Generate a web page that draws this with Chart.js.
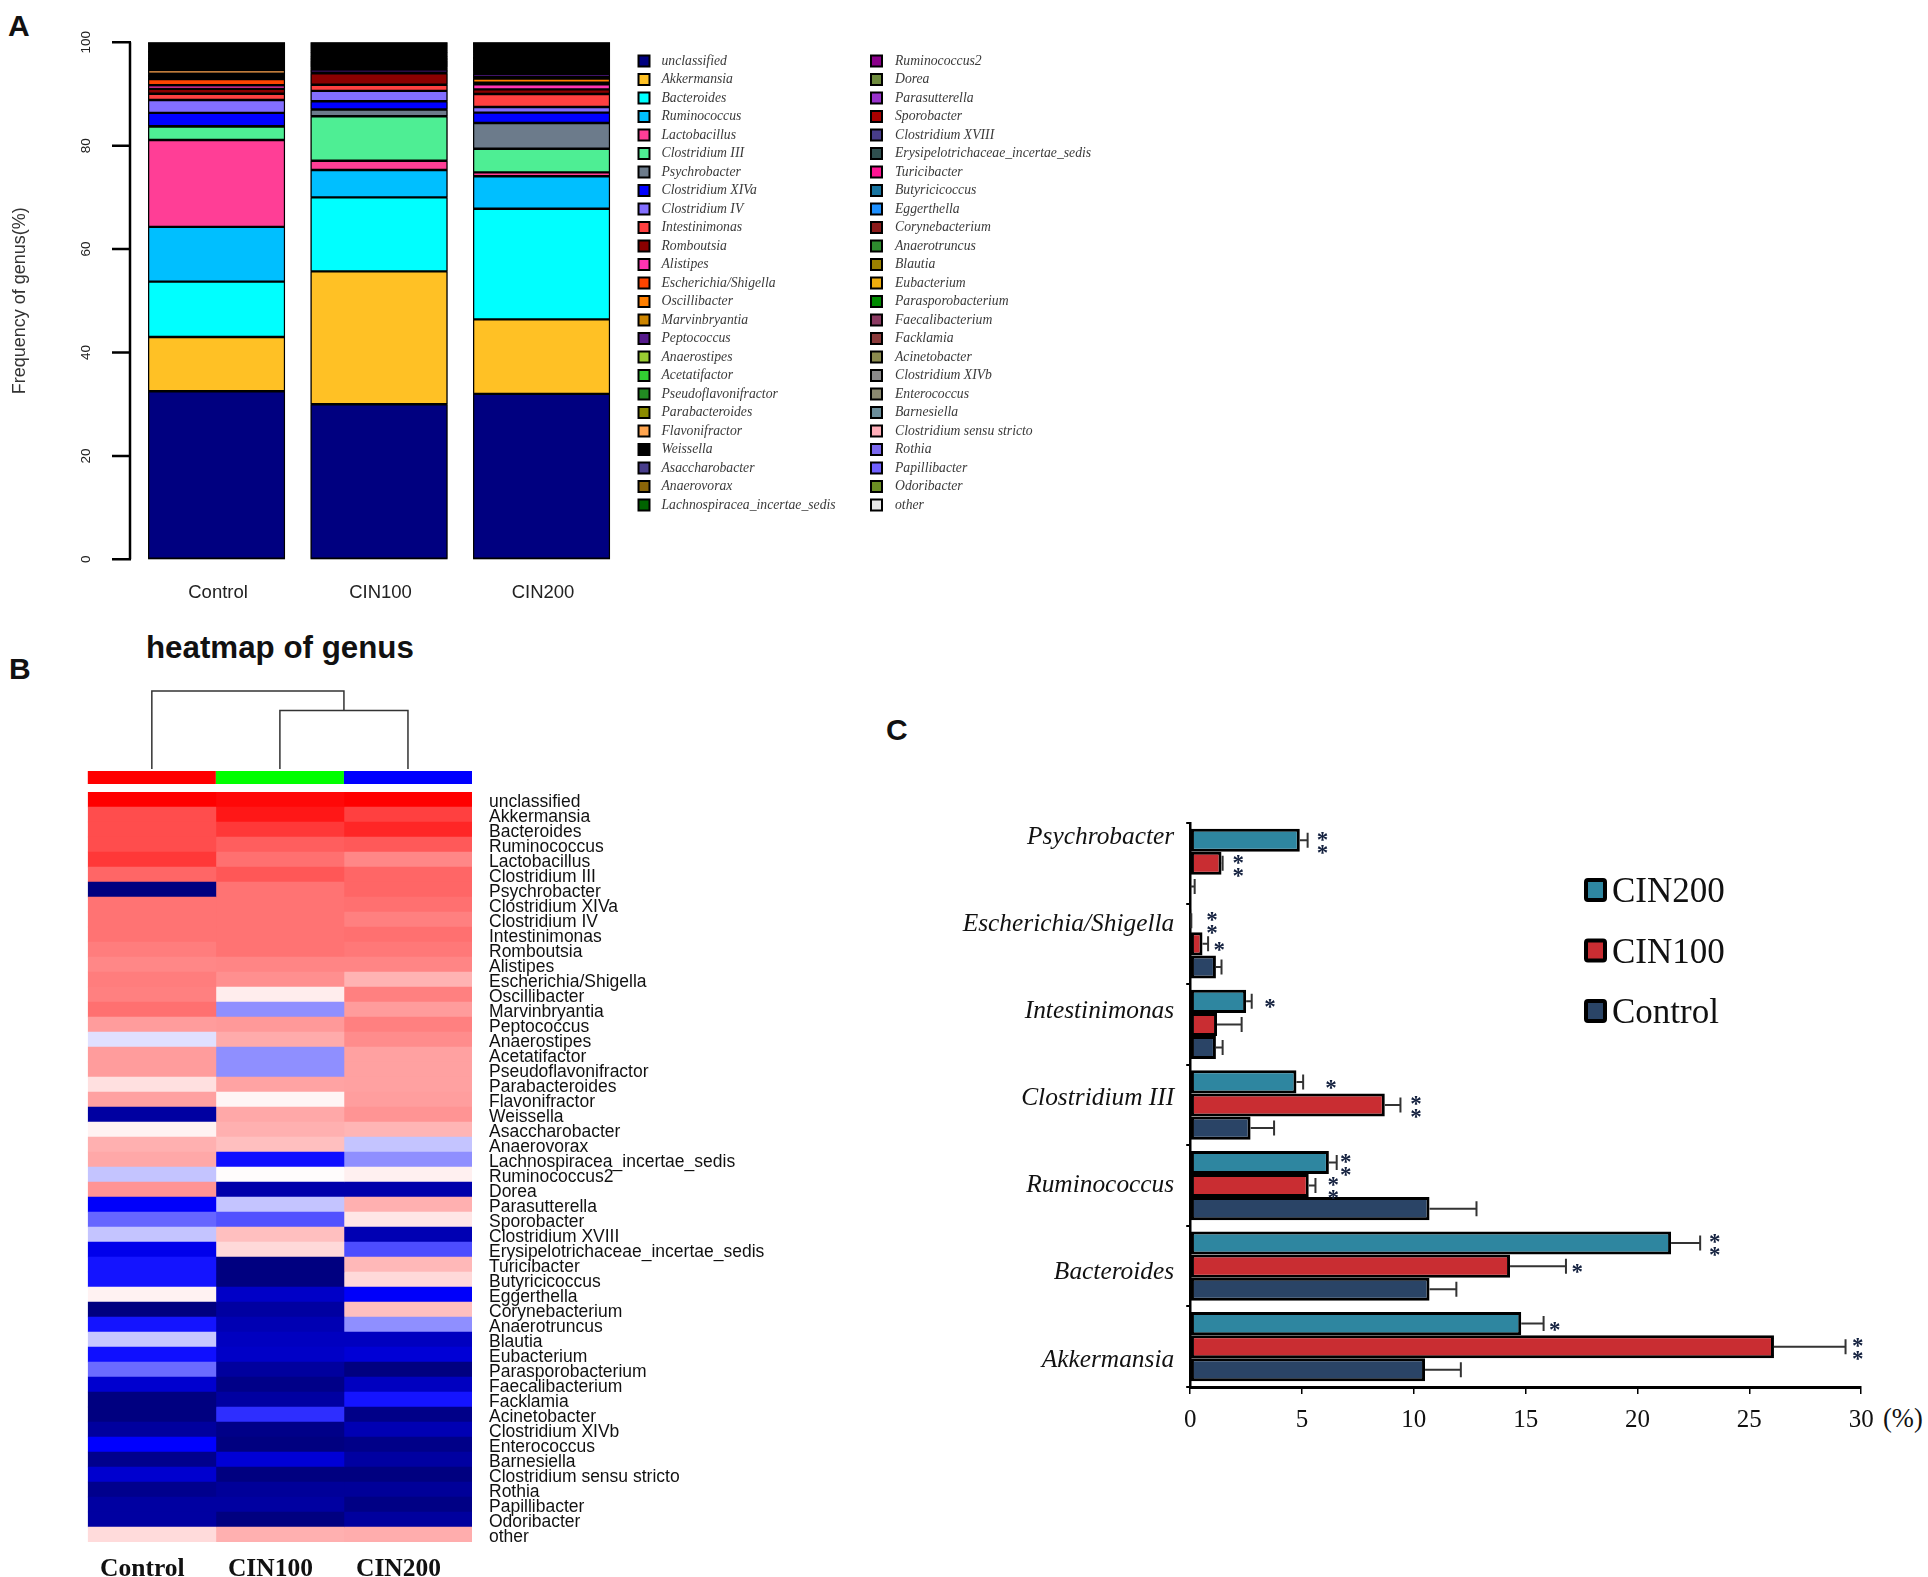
<!DOCTYPE html>
<html>
<head>
<meta charset="utf-8">
<title>genus charts</title>
<script src="https://cdn.jsdelivr.net/npm/chart.js@4"></script>
<style>
  html, body { margin: 0; padding: 0; background: #fff; }
  body { position: relative; width: 1928px; height: 1577px; overflow: hidden; }
  canvas { position: absolute; }
  .tag { position: absolute; font: bold 30px/30px "Liberation Sans"; color: #111; }
</style>
</head>
<body>
<div class="tag" style="left:8px;top:11px">A</div>
<div class="tag" style="left:9px;top:654px">B</div>
<div class="tag" style="left:886px;top:715px">C</div>
<div class="tag" style="left:146px;top:632px;font-size:31.3px;line-height:31px">heatmap of genus</div>
<div class="tag" style="left:1883px;top:1405px;font:26.5px/26.5px 'Liberation Serif'">(%)</div>
<canvas id="stack" width="1100" height="620" style="left:0;top:0"></canvas>
<canvas id="heat" width="880" height="957" style="left:0;top:620px"></canvas>
<canvas id="bars" width="1048" height="760" style="left:880px;top:700px"></canvas>
<script>
const samples = ["Control", "CIN100", "CIN200"];
const genera = ["unclassified", "Akkermansia", "Bacteroides", "Ruminococcus", "Lactobacillus", "Clostridium III", "Psychrobacter", "Clostridium XIVa", "Clostridium IV", "Intestinimonas", "Romboutsia", "Alistipes", "Escherichia/Shigella", "Oscillibacter", "Marvinbryantia", "Peptococcus", "Anaerostipes", "Acetatifactor", "Pseudoflavonifractor", "Parabacteroides", "Flavonifractor", "Weissella", "Asaccharobacter", "Anaerovorax", "Lachnospiracea_incertae_sedis", "Ruminococcus2", "Dorea", "Parasutterella", "Sporobacter", "Clostridium XVIII", "Erysipelotrichaceae_incertae_sedis", "Turicibacter", "Butyricicoccus", "Eggerthella", "Corynebacterium", "Anaerotruncus", "Blautia", "Eubacterium", "Parasporobacterium", "Faecalibacterium", "Facklamia", "Acinetobacter", "Clostridium XIVb", "Enterococcus", "Barnesiella", "Clostridium sensu stricto", "Rothia", "Papillibacter", "Odoribacter", "other"];
const generaColors = ["#000080", "#FFC125", "#00FFFF", "#00BFFF", "#FF3E96", "#4EEE94", "#6C7B8B", "#0000FF", "#836FFF", "#FF4040", "#8B0000", "#FF34B3", "#FF4500", "#FF7F00", "#CD8500", "#551A8B", "#9ACD32", "#32CD32", "#228B22", "#8B8B00", "#FFA54F", "#000000", "#483D8B", "#8B6508", "#006400", "#8B008B", "#6E8B3D", "#9932CC", "#AA0000", "#483D8B", "#2F4F4F", "#FF1493", "#1874A0", "#1E90FF", "#8B1A1A", "#2E8B2E", "#9C8200", "#EEAD0E", "#008B00", "#8B3A62", "#8B3A3A", "#8B8B4E", "#8B8989", "#8B8970", "#6C8E9B", "#FFAEB9", "#7B68EE", "#7060FF", "#6B8E23", "#E8E8E8"];

// frequency of genus (%), same order as genera
const freqControl = [32.5, 10.5, 10.7, 10.6, 16.8, 2.6, 0.05, 2.6, 2.5, 1.2, 0.95, 0.7, 1.2, 0.35, 0.25, 0.25, 0.02, 0.08, 0.05, 0.05, 0.7, 1.8, 0.25, 0.3, 0.3, 0.1, 0.3, 0.03, 0.06, 0.08, 0.03, 0.1, 0.1, 0.25, 0.02, 0.05, 0.2, 0.1, 0.05, 0.1, 0.02, 0.02, 0.1, 0.1, 0.1, 0.15, 0.1, 0.1, 0.1, 0.35];
const freqCIN100 = [30, 25.7, 14.3, 5.3, 1.8, 8.6, 1.3, 1.6, 2.0, 1.2, 2.2, 0.05, 0.02, 0.03, 0.03, 0.6, 0.1, 0.15, 0.05, 0.05, 0.05, 1.4, 0.25, 0.3, 0.25, 0.1, 0.05, 0.1, 0.06, 0.1, 0.03, 0.05, 0.1, 0.25, 0.02, 0.05, 0.2, 0.1, 0.05, 0.1, 0.02, 0.1, 0.1, 0.1, 0.1, 0.15, 0.15, 0.15, 0.15, 0.3];
const freqCIN200 = [32, 14.4, 21.4, 6.3, 0.75, 4.55, 5.0, 2.0, 1.1, 2.5, 0.9, 1.0, 0.3, 0.8, 0.3, 0.6, 0.05, 0.1, 0.1, 0.1, 0.1, 2.0, 0.3, 0.3, 0.2, 0.1, 0.05, 0.1, 0.1, 0.2, 0.03, 0.1, 0.05, 0.1, 0.15, 0.05, 0.15, 0.15, 0.05, 0.1, 0.05, 0.1, 0.1, 0.15, 0.15, 0.15, 0.15, 0.2, 0.2, 0.12];

// heatmap scale: -1 navy, -0.5 blue, 0 white, 1 red
const heatControl = [1, 0.7, 0.7, 0.7, 0.78, 0.6, -1, 0.55, 0.55, 0.55, 0.51, 0.47, 0.51, 0.5, 0.56, 0.39, -0.06, 0.39, 0.39, 0.12, 0.37, -0.87, 0.05, 0.31, 0.34, -0.115, 0.42, -0.52, -0.3, -0.115, -0.58, -0.46, -0.46, 0.05, -1, -0.46, -0.11, -0.47, -0.29, -0.69, -1, -1, -0.88, -0.5, -0.95, -0.69, -0.95, -0.87, -0.87, 0.14];
const heatCIN100 = [0.97, 0.91, 0.78, 0.63, 0.56, 0.66, 0.55, 0.55, 0.55, 0.55, 0.55, 0.48, 0.44, 0.07, -0.22, 0.4, 0.33, -0.22, -0.22, 0.36, 0.04, 0.34, 0.31, 0.25, -0.47, 0.01, -0.83, -0.115, -0.34, 0.25, 0.15, -1, -1, -0.72, -0.87, -0.8, -0.75, -0.72, -0.88, -0.97, -0.87, -0.41, -0.97, -1, -0.66, -1, -0.9, -0.87, -1, 0.31];
const heatCIN200 = [1, 0.75, 0.85, 0.65, 0.47, 0.6, 0.6, 0.56, 0.5, 0.56, 0.53, 0.48, 0.3, 0.5, 0.39, 0.5, 0.45, 0.37, 0.37, 0.37, 0.38, 0.42, 0.29, -0.115, -0.22, 0.06, -0.83, 0.31, 0.1, -0.8, -0.35, 0.28, 0.15, -0.52, 0.25, -0.22, -0.75, -0.66, -1, -0.75, -0.46, -0.97, -0.8, -0.97, -0.87, -1, -0.9, -0.98, -0.88, 0.32];
const sampleBar = ["#FF0000", "#00FF00", "#0000FF"];

// panel C, top to bottom
const barGenera = ["Psychrobacter", "Escherichia/Shigella", "Intestinimonas", "Clostridium III", "Ruminococcus", "Bacteroides", "Akkermansia"];
const barCIN200 = [4.9, 0.05, 2.5, 4.75, 6.2, 21.5, 14.8];
const barCIN100 = [1.4, 0.55, 1.2, 8.7, 5.3, 14.3, 26.1];
const barControl = [0.02, 1.15, 1.15, 2.7, 10.7, 10.7, 10.5];
const errCIN200 = [5.25, 0.05, 2.75, 5.05, 6.55, 22.8, 15.8];
const errCIN100 = [1.45, 0.8, 2.3, 9.4, 5.6, 16.8, 29.3];
const errControl = [0.2, 1.4, 1.45, 3.75, 12.8, 11.9, 12.1];
const starsCIN200 = [2, 2, 1, 1, 2, 2, 1];
const starsCIN100 = [2, 1, 0, 2, 2, 1, 2];
const starAtCIN200 = [5.92, 0.97, 3.57, 6.3, 6.96, 23.45, 16.3];
const starAtCIN100 = [2.15, 1.3, 0, 10.1, 6.4, 17.3, 29.85];

Chart.defaults.animation = false;
Chart.defaults.responsive = false;
Chart.defaults.devicePixelRatio = 1;
Chart.defaults.layout.autoPadding = false;
Chart.defaults.plugins.legend.display = false;
Chart.defaults.plugins.tooltip.enabled = false;

function heatColor(v) {
  if (v >= 0) { const g = Math.round(255 * (1 - v)); return `rgb(255,${g},${g})`; }
  if (v >= -0.5) { const g = Math.round(255 * (1 + v / 0.5)); return `rgb(${g},${g},255)`; }
  return `rgb(0,0,${Math.round(255 - 127 * (-v - 0.5) / 0.5)})`;
}

// R style axis sits a little left of the bars, plus the two column legend
const stackExtras = {
  id: "stackExtras",
  beforeDatasetsDraw(chart) {
    // thin segments are all outline, black behind them keeps them from going grey
    const { ctx, scales } = chart;
    ctx.save();
    ctx.fillStyle = "#000";
    chart.getDatasetMeta(0).data.forEach(bar => {
      const top = scales.y.getPixelForValue(100);
      ctx.fillRect(bar.x - bar.width / 2, top, bar.width, scales.y.getPixelForValue(0) - top);
    });
    ctx.restore();
  },
  afterDraw(chart) {
    const { ctx, chartArea, scales } = chart;
    const ax = chartArea.left - 5.3;
    ctx.save();
    ctx.strokeStyle = "#000";
    ctx.lineWidth = 2.5;
    ctx.beginPath();
    ctx.moveTo(ax, scales.y.getPixelForValue(0));
    ctx.lineTo(ax, scales.y.getPixelForValue(100));
    scales.y.ticks.forEach(t => {
      const py = scales.y.getPixelForValue(t.value);
      ctx.moveTo(ax + 1, py);
      ctx.lineTo(ax - 18, py);
    });
    ctx.stroke();
    ctx.font = "italic 13.7px 'Liberation Serif'";
    ctx.textBaseline = "middle";
    genera.forEach((g, i) => {
      const col = i < 25 ? 0 : 1;
      const bx = col ? 871 : 638.5;
      const py = 61 + (i % 25) * 18.5;
      ctx.fillStyle = generaColors[i];
      ctx.fillRect(bx, py - 5.5, 11, 11);
      ctx.lineWidth = 2;
      ctx.strokeRect(bx, py - 5.5, 11, 11);
      ctx.fillStyle = "#3a3a3a";
      ctx.fillText(g, col ? 895 : 661.5, py);
    });
    ctx.restore();
  }
};

new Chart(document.getElementById("stack"), {
  type: "bar",
  data: {
    labels: samples,
    datasets: genera.map((g, i) => ({
      label: g,
      data: [freqControl[i], freqCIN100[i], freqCIN200[i]],
      backgroundColor: generaColors[i],
      borderColor: "#000",
      borderWidth: 1.2,
      borderSkipped: false,
      barPercentage: 0.843,
      categoryPercentage: 1,
    })),
  },
  options: {
    layout: { padding: { top: 42.3, right: 477.2 } },
    scales: {
      x: {
        stacked: true,
        grid: { display: false, drawTicks: false },
        border: { display: false },
        ticks: { color: "#222", font: { family: "Liberation Sans", size: 18.5 }, padding: 23, labelOffset: 1.5 },
        afterFit: s => { s.height = 60.7; },
      },
      y: {
        stacked: true,
        min: 0,
        max: 100,
        // invisible long tick marks push the rotated labels out, tick padding would eat into the plot top
        grid: { drawOnChartArea: false, tickColor: "rgba(0,0,0,0)", tickLength: 38 },
        border: { display: false },
        ticks: { stepSize: 20, color: "#222", font: { family: "Liberation Sans", size: 13.5 }, minRotation: 90, maxRotation: 90, crossAlign: "center", padding: 0 },
        title: { display: true, text: "Frequency of genus(%)", color: "#333", font: { family: "Liberation Sans", size: 18 }, padding: { top: 9, bottom: 0 } },
        afterFit: s => { s.width = 135.3; },
      },
    },
  },
  plugins: [stackExtras],
});

// dendrogram and sample colour strip over the heatmap
const heatExtras = {
  id: "heatExtras",
  afterDraw(chart) {
    const { ctx, chartArea, scales } = chart;
    const x = v => scales.x.getPixelForValue(v);
    const top = chartArea.top;
    ctx.save();
    samples.forEach((s, i) => {
      ctx.fillStyle = sampleBar[i];
      ctx.fillRect(x(i), top - 21, x(i + 1) - x(i), 13);
    });
    const rootY = top - 101, joinY = top - 81.5, leafY = top - 23;
    ctx.strokeStyle = "#333";
    ctx.lineWidth = 1.5;
    ctx.beginPath();
    ctx.moveTo(x(0.5), leafY); ctx.lineTo(x(0.5), rootY); ctx.lineTo(x(2), rootY); ctx.lineTo(x(2), joinY);
    ctx.moveTo(x(1.5), leafY); ctx.lineTo(x(1.5), joinY); ctx.lineTo(x(2.5), joinY); ctx.lineTo(x(2.5), leafY);
    ctx.stroke();
    ctx.restore();
  }
};

new Chart(document.getElementById("heat"), {
  type: "bar",
  data: {
    labels: genera,
    datasets: [heatControl, heatCIN100, heatCIN200].map((heat, c) => ({
      label: samples[c],
      data: genera.map((g, i) => ({ x: [c, c + 1], y: g, v: heat[i] })),
      backgroundColor: ctx => heatColor(ctx.raw.v),
      borderWidth: 0,
      barPercentage: 1,
      categoryPercentage: 1,
      grouped: false,
    })),
  },
  options: {
    indexAxis: "y",
    layout: { padding: { left: 87.8, top: 172 } },
    scales: {
      x: {
        type: "linear",
        min: 0,
        max: 3,
        grid: { display: false, drawTicks: false },
        border: { display: false },
        afterBuildTicks: s => { s.ticks = [{ value: 0.5 }, { value: 1.5 }, { value: 2.5 }]; },
        ticks: {
          callback: v => samples[Math.floor(v)],
          color: "#111",
          font: { family: "Liberation Serif", size: 25.5, weight: "bold" },
          padding: 12,
          labelOffset: -9.5,
          maxRotation: 0,
        },
        afterFit: s => { s.height = 35; },
      },
      y: {
        position: "right",
        grid: { display: false, drawTicks: false },
        border: { display: false },
        ticks: { autoSkip: false, color: "#111", font: { family: "Liberation Sans", size: 17.5 }, padding: 17, labelOffset: 2.5 },
        afterFit: s => { s.width = 408; },
      },
    },
  },
  plugins: [heatExtras],
});

// error bars, significance stars and the legend of panel C
const barExtras = {
  id: "barExtras",
  afterDatasetsDraw(chart) {
    const { ctx, scales } = chart;
    ctx.save();
    chart.data.datasets.forEach((ds, d) => {
      chart.getDatasetMeta(d).data.forEach((bar, i) => {
        const hi = scales.x.getPixelForValue(ds.errorTop[i]);
        ctx.strokeStyle = "#333";
        ctx.lineWidth = 2;
        ctx.beginPath();
        ctx.moveTo(bar.x, bar.y);
        ctx.lineTo(hi, bar.y);
        ctx.moveTo(hi, bar.y - 7.5);
        ctx.lineTo(hi, bar.y + 7.5);
        ctx.stroke();
        const n = ds.stars ? ds.stars[i] : 0;
        ctx.fillStyle = "#14213f";
        ctx.font = "bold 23px 'Liberation Serif'";
        ctx.textAlign = "center";
        ctx.textBaseline = "middle";
        for (let k = 0; k < n; k++) {
          const sy = bar.y + 5 + (n === 2 ? (k ? 6.5 : -6.5) : 0);
          ctx.fillText("*", scales.x.getPixelForValue(ds.starAt[i]), sy + 2);
        }
      });
    });
    ctx.textAlign = "left";
    chart.data.datasets.forEach((ds, d) => {
      const ly = 178 + d * 60.5;
      ctx.fillStyle = ds.backgroundColor;
      ctx.strokeStyle = "#000";
      ctx.lineWidth = 4;
      ctx.beginPath();
      ctx.roundRect(706, ly + 2, 19, 20, 2);
      ctx.fill();
      ctx.stroke();
      ctx.fillStyle = "#111";
      ctx.font = "35px 'Liberation Serif'";
      ctx.textBaseline = "middle";
      ctx.fillText(ds.label, 732, ly + 15);
    });
    ctx.restore();
  }
};

new Chart(document.getElementById("bars"), {
  type: "bar",
  data: {
    labels: barGenera,
    datasets: [
      { label: "CIN200", data: barCIN200, errorTop: errCIN200, stars: starsCIN200, starAt: starAtCIN200, backgroundColor: "#2E86A0" },
      { label: "CIN100", data: barCIN100, errorTop: errCIN100, stars: starsCIN100, starAt: starAtCIN100, backgroundColor: "#C92D32" },
      { label: "Control", data: barControl, errorTop: errControl, backgroundColor: "#2A4466" },
    ].map(ds => ({ ...ds, borderColor: "#000", borderWidth: 3, borderSkipped: false, barPercentage: 1, categoryPercentage: 0.86 })),
  },
  options: {
    indexAxis: "y",
    layout: { padding: { top: 123, right: 66.8 } },
    scales: {
      x: {
        min: 0,
        max: 30,
        grid: { drawOnChartArea: false, color: "#000", lineWidth: 1.5, tickLength: 7 },
        border: { color: "#000", width: 3 },
        ticks: { stepSize: 5, color: "#111", maxRotation: 0, font: { family: "Liberation Serif", size: 25 }, padding: 11 },
        afterFit: s => { s.height = 73; },
      },
      y: {
        grid: { offset: true, drawOnChartArea: false, color: "#000", lineWidth: 2, tickLength: 4 },
        border: { color: "#000", width: 2.5 },
        ticks: { display: false },
        afterFit: s => { s.width = 4; },
      },
      // the names were set at a wider spacing than the groups, so they get their own scale
      names: {
        type: "linear",
        position: "left",
        weight: 1,
        reverse: true,
        offset: false,
        min: -0.16,
        max: 6.31,
        grid: { display: false, drawTicks: false },
        border: { display: false },
        afterBuildTicks: s => { s.ticks = barGenera.map((g, i) => ({ value: i })); },
        ticks: {
          callback: v => barGenera[v],
          color: "#111",
          font: { family: "Liberation Serif", size: 25.4, style: "italic" },
          padding: 12,
        },
        afterFit: s => { s.width = 306.2; },
      },
    },
  },
  plugins: [barExtras],
});
</script>
</body>
</html>
